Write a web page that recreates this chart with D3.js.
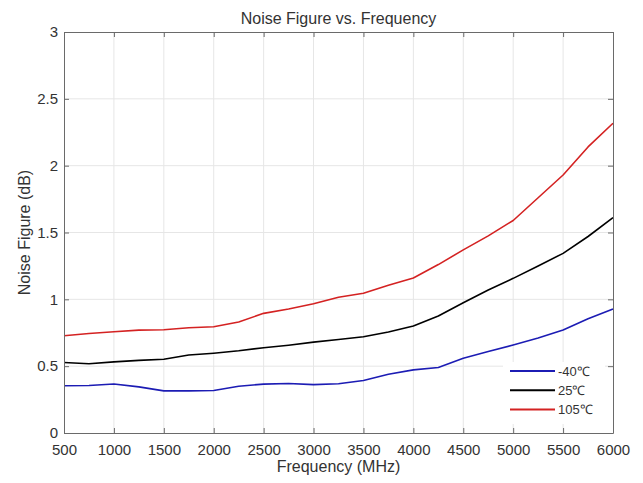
<!DOCTYPE html>
<html>
<head>
<meta charset="utf-8">
<script src="https://cdn.jsdelivr.net/npm/d3@7"></script>
<style>
  body { margin: 0; background: #fff; }
  text { font-family: "Liberation Sans", Arial, sans-serif; fill: #333; }
</style>
</head>
<body>
<svg id="chart" width="643" height="483"></svg>
<script>
// data
const freq = [500, 750, 1000, 1250, 1500, 1750, 2000, 2250, 2500, 2750, 3000, 3250,
              3500, 3750, 4000, 4250, 4500, 4750, 5000, 5250, 5500, 5750, 6000];
const nfMinus40 = [0.354, 0.355, 0.367, 0.345, 0.315, 0.315, 0.318, 0.35, 0.366, 0.37, 0.362, 0.368,
                   0.393, 0.44, 0.472, 0.49, 0.559, 0.61, 0.658, 0.71, 0.77, 0.855, 0.928];
const nf25 = [0.527, 0.518, 0.532, 0.543, 0.552, 0.583, 0.597, 0.615, 0.638, 0.657, 0.68, 0.70,
              0.72, 0.755, 0.80, 0.875, 0.975, 1.07, 1.157, 1.25, 1.344, 1.47, 1.611];
const nf105 = [0.728, 0.744, 0.758, 0.77, 0.772, 0.787, 0.795, 0.831, 0.895, 0.928, 0.967, 1.015,
               1.045, 1.105, 1.16, 1.26, 1.37, 1.475, 1.59, 1.76, 1.93, 2.14, 2.317];
const seriesNames = ["-40\u2103", "25\u2103", "105\u2103"];
const xTicks = d3.range(500, 6001, 500);
const yTicks = [0, 0.5, 1, 1.5, 2, 2.5, 3];

const series = [
  { name: seriesNames[0], values: nfMinus40, color: "#1c1cb4" },
  { name: seriesNames[1], values: nf25, color: "#000000" },
  { name: seriesNames[2], values: nf105, color: "#d42222" }
];

const svg = d3.select("#chart");
const pLeft = 64, pRight = 613, pTop = 32, pBottom = 433;

const x = d3.scaleLinear().domain([500, 6000]).range([pLeft, pRight]);
const y = d3.scaleLinear().domain([0, 3]).range([pBottom, pTop]);

// grid
svg.append("g").selectAll("line").data(xTicks.slice(1, -1)).enter().append("line")
  .attr("x1", d => x(d)).attr("x2", d => x(d)).attr("y1", pTop).attr("y2", pBottom)
  .attr("stroke", "#e6e6e6").attr("stroke-width", 1);
svg.append("g").selectAll("line").data(yTicks.slice(1, -1)).enter().append("line")
  .attr("x1", pLeft).attr("x2", pRight).attr("y1", d => y(d)).attr("y2", d => y(d))
  .attr("stroke", "#e6e6e6").attr("stroke-width", 1);

// lines
const line = d3.line().x((d, i) => x(freq[i])).y(d => y(d));
series.forEach(s => {
  svg.append("path")
    .datum(s.values)
    .attr("d", line)
    .attr("fill", "none")
    .attr("stroke", s.color)
    .attr("stroke-width", 1.6)
    .attr("stroke-linejoin", "round");
});

// axes, ticks pointing inward on all sides
const axisColor = "#6a6a6a";
const xb = svg.append("g").attr("transform", `translate(0,${pBottom})`)
  .call(d3.axisBottom(x).tickValues(xTicks).tickSizeInner(-5).tickSizeOuter(0).tickPadding(11)
    .tickFormat(d3.format("")));
const xt = svg.append("g").attr("transform", `translate(0,${pTop})`)
  .call(d3.axisTop(x).tickValues(xTicks).tickSizeInner(-5).tickSizeOuter(0).tickFormat(""));
const yl = svg.append("g").attr("transform", `translate(${pLeft},0)`)
  .call(d3.axisLeft(y).tickValues(yTicks).tickSizeInner(-5).tickSizeOuter(0).tickPadding(6)
    .tickFormat(d3.format("")));
const yr = svg.append("g").attr("transform", `translate(${pRight},0)`)
  .call(d3.axisRight(y).tickValues(yTicks).tickSizeInner(-5).tickSizeOuter(0).tickFormat(""));

[xb, xt, yl, yr].forEach(a => {
  a.select(".domain").attr("stroke", axisColor);
  a.selectAll(".tick line").attr("stroke", axisColor);
  a.selectAll("text").style("font-size", "15px").attr("fill", "#333")
    .style("font-family", "'Liberation Sans', Arial, sans-serif");
});

// title and labels
svg.append("text").attr("x", (pLeft + pRight) / 2).attr("y", 24)
  .attr("text-anchor", "middle").style("font-size", "16px")
  .text("Noise Figure vs. Frequency");
svg.append("text").attr("x", (pLeft + pRight) / 2).attr("y", 472)
  .attr("text-anchor", "middle").style("font-size", "16px")
  .text("Frequency (MHz)");
svg.append("text")
  .attr("transform", `translate(30,${(pTop + pBottom) / 2}) rotate(-90)`)
  .attr("text-anchor", "middle").style("font-size", "16px")
  .text("Noise Figure (dB)");

// legend (white background, no border)
const legend = svg.append("g");
legend.append("rect").attr("x", 503).attr("y", 362).attr("width", 102).attr("height", 62)
  .attr("fill", "#fff");
series.forEach((s, i) => {
  const ly = 371 + i * 19.3;
  legend.append("line").attr("x1", 510).attr("x2", 555).attr("y1", ly).attr("y2", ly)
    .attr("stroke", s.color).attr("stroke-width", 2);
  legend.append("text").attr("x", 558).attr("y", ly).attr("dy", "0.35em")
    .style("font-size", "13px").text(s.name);
});
</script>
</body>
</html>
